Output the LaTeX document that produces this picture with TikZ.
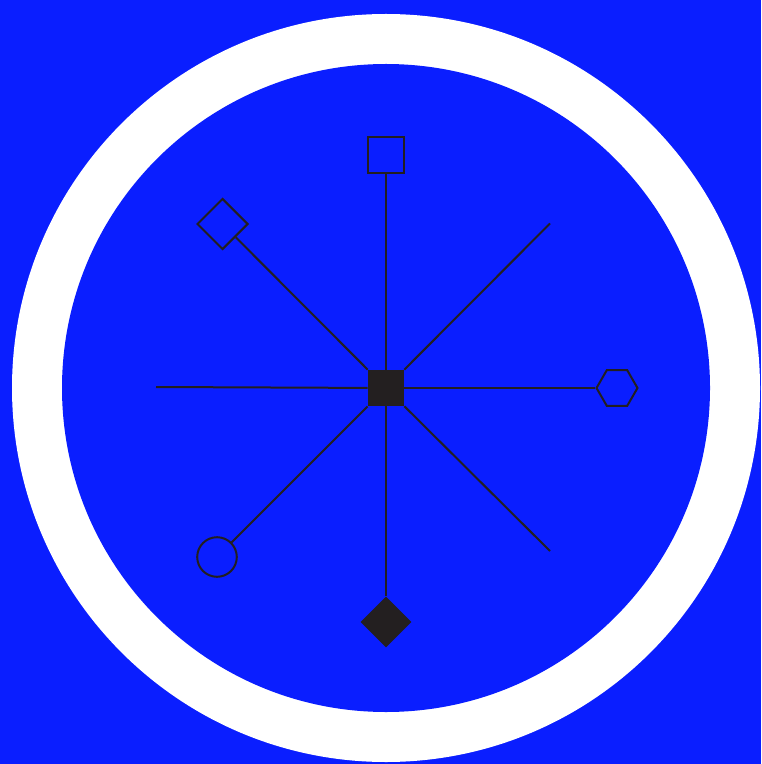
\documentclass[tikz,border=0pt]{standalone}
\usepackage{tikz}
\usetikzlibrary{shapes.geometric, positioning, calc}

\definecolor{bgblue}{RGB}{10,30,255}
\definecolor{ink}{RGB}{35,31,32}

\begin{document}
\begin{tikzpicture}[
    x=0.5pt, y=-0.5pt,
    spoke/.style={draw=ink, line width=1pt},
    outline/.style={draw=ink, line width=1pt, inner sep=0pt},
    hubbox/.style={rectangle, fill=ink, inner sep=0pt, minimum size=18pt},
    sqbox/.style={outline, rectangle, minimum size=18pt},
    diabox/.style={outline, diamond, minimum size=25.5pt},
    hexbox/.style={outline, regular polygon, regular polygon sides=6, minimum size=20.5pt},
    ringbox/.style={outline, circle, minimum size=19.8pt},
    soliddia/.style={diamond, fill=ink, inner sep=0pt, minimum size=25.5pt}
]
% background and ring
\fill[bgblue] (0,0) rectangle (761,764);
\useasboundingbox (0,0) rectangle (761,764);
\fill[white] (386,388) circle[radius=187pt];
\fill[bgblue] (386,388) circle[radius=162pt];

% hub and the shapes at the spoke ends
\node[hubbox] (hub) at (386,388) {};
\node[sqbox] (top) at (386,155.5) {};
\node[diabox] (upleft) at (222.5,224) {};
\node[hexbox] (right) at (617,388) {};
\node[ringbox] (downleft) at (217,557) {};
\node[soliddia] (bottom) at (386,622) {};

% open spoke ends
\coordinate (upright) at (550,223.5);
\coordinate (left) at (156,387);
\coordinate (downright) at (550,551);

\draw[spoke] (hub) -- (top);
\draw[spoke] (hub) -- (upleft);
\draw[spoke] (hub) -- (right);
\draw[spoke] (hub) -- (downleft);
\draw[spoke] (hub) -- (bottom);
\foreach \e in {upright, left, downright}
    \draw[spoke] (hub) -- (\e);

\end{tikzpicture}
\end{document}
